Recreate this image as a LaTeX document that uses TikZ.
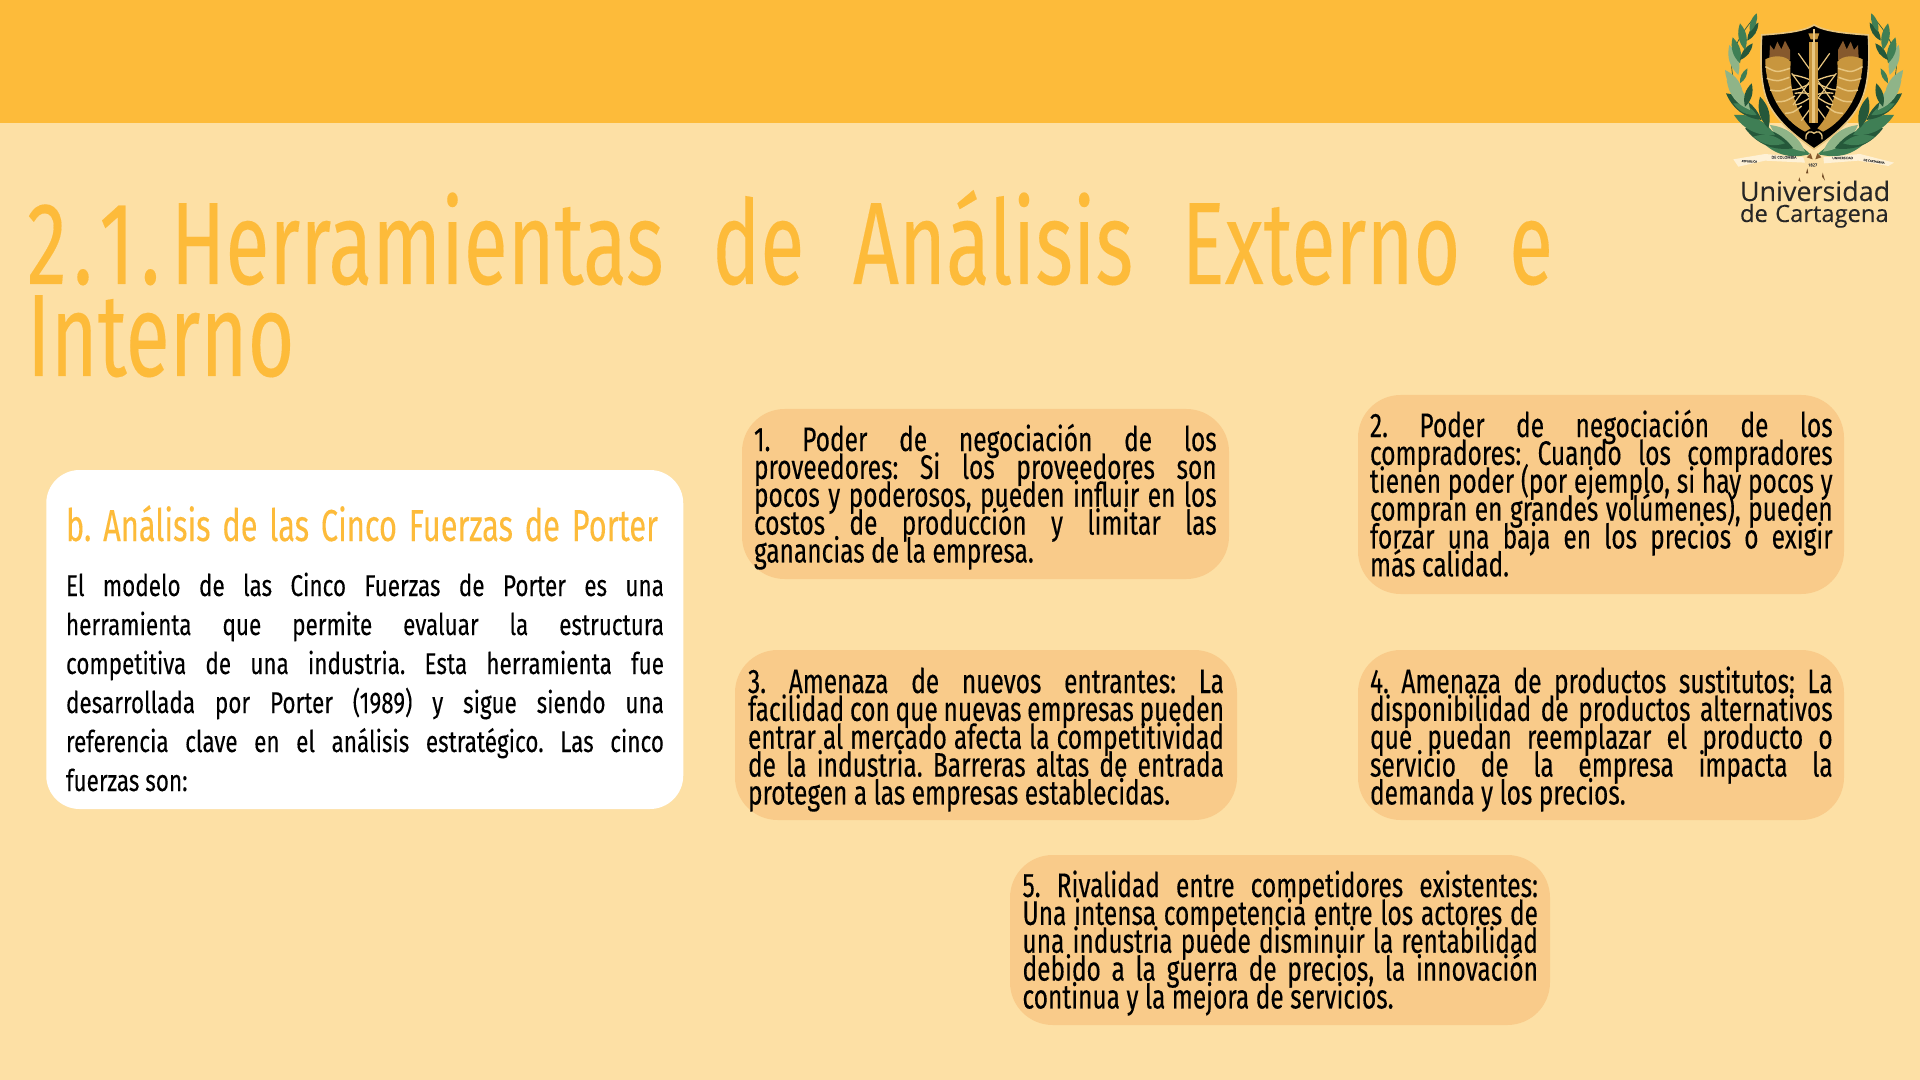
\documentclass[tikz,border=0pt]{standalone}
\usepackage{fontspec}
\usetikzlibrary{calc}
\newfontfamily\oswbox[FakeStretch=0.72,FakeBold=0.25]{Fira Sans}
\newfontfamily\oswbody[FakeStretch=0.75,FakeBold=0.15]{Fira Sans}
\newfontfamily\oswhead[FakeStretch=0.69,FakeBold=0.12]{Fira Sans}
\newfontfamily\oswtitle[FakeStretch=0.685,FakeBold=0.12]{Fira Sans}
\newfontfamily\logofont[FakeBold=0.1]{Open Sans}
\definecolor{bgcream}{HTML}{FDE0A5}
\definecolor{band}{HTML}{FDBB3A}
\definecolor{panelc}{HTML}{F9CB8A}
\definecolor{leafd}{HTML}{25583A}
\definecolor{leafm}{HTML}{3F7F55}
\definecolor{leafl}{HTML}{8FB488}
\definecolor{goldc}{HTML}{C8963E}
\definecolor{goldl}{HTML}{E8C680}
\hbadness=100000 \hfuzz=40pt \frenchspacing
\newcommand\jl[2]{\makebox[#1][s]{#2}\par}
\newcommand\lf[3]{\fill[#1] (#2) to[bend left=30] (#3) to[bend left=30] (#2) -- cycle;}
\newcommand\blk[2]{\fontsize{#1}{#2}\selectfont\setlength{\parindent}{0pt}\setlength{\baselineskip}{#2pt}\setlength{\lineskiplimit}{-100pt}\frenchspacing}
\newcommand\laurelhalf{%
  \draw[leafd,line width=.5pt] (355,465) .. controls (240,410) and (130,310) .. (125,200) .. controls (125,140) and (160,90) .. (200,45);
  \lf{leafm}{360,462}{215,425}\lf{leafl}{345,455}{240,375}\lf{leafd}{310,445}{165,385}
  \lf{leafm}{285,430}{190,410}\lf{leafm}{255,405}{132,345}\lf{leafd}{235,385}{210,290}
  \lf{leafd}{215,360}{108,280}\lf{leafm}{200,345}{130,310}
  \lf{leafl}{180,330}{110,240}\lf{leafd}{165,320}{185,250}\lf{leafl}{160,290}{105,210}
  \lf{leafm}{150,250}{172,205}\lf{leafl}{145,225}{118,135}\lf{leafm}{150,190}{128,112}
  \lf{leafd}{150,180}{188,130}\lf{leafm}{165,150}{150,70}\lf{leafd}{172,122}{205,68}
  \lf{leafm}{180,95}{200,40}
}
\newcommand\hornhalf{%
  \fill[brown!70!black] (238,175) -- (240,135) -- (252,150) -- (262,125) -- (274,148) -- (285,122) -- (300,150) -- (300,180) -- cycle;
  \fill[goldc] (226,178) .. controls (250,165) and (285,165) .. (302,185) .. controls (296,270) and (320,340) .. (362,385) -- (345,395) .. controls (275,360) and (225,270) .. (226,178) -- cycle;
  \draw[goldl,line width=1.1pt] (226,200) .. controls (260,218) .. (300,205);
  \draw[goldl,line width=1.1pt] (230,235) .. controls (262,245) .. (298,232);
  \draw[goldl,line width=1.1pt] (240,270) .. controls (270,275) .. (303,260);
  \draw[goldl,line width=1.1pt] (258,305) .. controls (285,305) .. (315,288);
  \draw[goldl,line width=1.1pt] (285,340) .. controls (310,338) .. (335,318);
  \draw[goldl,line width=.9pt] (325,160) -- (435,315);
  \draw[goldl,line width=.9pt] (305,220) -- (410,362);
  \draw[goldl,line width=1pt] (305,270) .. controls (340,270) and (370,235) .. (435,225);
  \draw[goldl,line width=1pt] (315,315) .. controls (350,310) and (370,270) .. (430,280);
  \draw[goldl,line width=1pt] (348,418) .. controls (345,392) and (365,392) .. (372,400);
}
\begin{document}
\begin{tikzpicture}[x=0.75pt,y=-0.75pt,
  panel/.style={fill=panelc,rounded corners=32pt,inner sep=0pt},
  whitepanel/.style={fill=white,rounded corners=25pt,inner sep=0pt},
  txt/.style={anchor=base west,inner sep=0pt,outer sep=0pt,text=black}]
\useasboundingbox (0,0) rectangle (1920,1080);
\fill[bgcream] (0,0) rectangle (1920,1080);
\fill[band] (0,0) rectangle (1920,123);

% title
\node[txt,text=band] (title) at (27,284) {\parbox[t]{1200pt}{\oswtitle\blk{88}{69}%
  \makebox[1144.5pt][s]{2\kern5pt.\kern5pt1\kern5pt.\kern8pt Herramientas de Análisis Externo e}\par Interno}};

% white panel
\node[whitepanel,minimum width=477.75pt,minimum height=254.25pt] (wp) at (364.75,639.5) {};
\node[txt,text=band] (wh) at (66,541) {\oswhead\fontsize{33.5}{40}\selectfont\makebox[444pt][s]{b. Análisis de las Cinco Fuerzas de Porter}};
\node[txt] (wb) at (66,596) {\parbox[t]{448.5pt}{\oswbody\blk{22.5}{29.25}%
  \jl{448.5pt}{El modelo de las Cinco Fuerzas de Porter es una}%
  \jl{448.5pt}{herramienta que permite evaluar la estructura}%
  \jl{448.5pt}{competitiva de una industria. Esta herramienta fue}%
  \jl{448.5pt}{desarrollada por Porter (1989) y sigue siendo una}%
  \jl{448.5pt}{referencia clave en el análisis estratégico. Las cinco}%
  fuerzas son:}};

% force panels
\node[panel,minimum width=365.25pt,minimum height=127.5pt] (p1) at (985.5,494) {};
\node[txt] (t1) at (754,451) {\parbox[t]{347pt}{\oswbox\blk{25.5}{20.9}%
  \jl{347pt}{1. Poder de negociación de los}%
  \jl{347pt}{proveedores: Si los proveedores son}%
  \jl{347pt}{pocos y poderosos, pueden influir en los}%
  \jl{347pt}{costos de producción y limitar las}%
  ganancias de la empresa.}};

\node[panel,minimum width=364.5pt,minimum height=149.25pt] (p2) at (1601,494.5) {};
\node[txt] (t2) at (1370,437) {\parbox[t]{347pt}{\oswbox\blk{25.5}{20.9}%
  \jl{347pt}{2. Poder de negociación de los}%
  \jl{347pt}{compradores: Cuando los compradores}%
  \jl{347pt}{tienen poder (por ejemplo, si hay pocos y}%
  \jl{347pt}{compran en grandes volúmenes), pueden}%
  \jl{347pt}{forzar una baja en los precios o exigir}%
  más calidad.}};

\node[panel,minimum width=376.5pt,minimum height=127.5pt] (p3) at (986,735) {};
\node[txt] (t3) at (748,693) {\parbox[t]{357pt}{\oswbox\blk{25.5}{20.9}%
  \jl{357pt}{3. Amenaza de nuevos entrantes: La}%
  \jl{357pt}{facilidad con que nuevas empresas pueden}%
  \jl{357pt}{entrar al mercado afecta la competitividad}%
  \jl{357pt}{de la industria. Barreras altas de entrada}%
  protegen a las empresas establecidas.}};

\node[panel,minimum width=364.5pt,minimum height=127.5pt] (p4) at (1601,735) {};
\node[txt] (t4) at (1370,693) {\parbox[t]{347pt}{\oswbox\blk{25.5}{20.9}%
  \jl{347pt}{4. Amenaza de productos sustitutos: La}%
  \jl{347pt}{disponibilidad de productos alternativos}%
  \jl{347pt}{que puedan reemplazar el producto o}%
  \jl{347pt}{servicio de la empresa impacta la}%
  demanda y los precios.}};

\node[panel,minimum width=405pt,minimum height=127.5pt] (p5) at (1280,940) {};
\node[txt] (t5) at (1022.5,897) {\parbox[t]{386.6pt}{\oswbox\blk{25.5}{20.9}%
  \jl{386.6pt}{5. Rivalidad entre competidores existentes:}%
  \jl{386.6pt}{Una intensa competencia entre los actores de}%
  \jl{386.6pt}{una industria puede disminuir la rentabilidad}%
  \jl{386.6pt}{debido a la guerra de precios, la innovación}%
  continua y la mejora de servicios.}};

% logo (drawn in 3x crop units)
\begin{scope}[shift={(1690,0)},x=0.25pt,y=-0.25pt]
  \laurelhalf
  \begin{scope}[shift={(744,0)},xscale=-1]
    \laurelhalf
  \end{scope}
  \draw[goldl,fill=black,line width=1.2pt] (215,105) .. controls (280,100) and (340,95) .. (372,75) .. controls (405,95) and (470,100) .. (535,105) .. controls (540,190) and (535,260) .. (510,310) .. controls (480,370) and (420,415) .. (372,447) .. controls (325,415) and (265,370) .. (235,310) .. controls (212,260) and (210,190) .. (215,105) -- cycle;
  \hornhalf
  \begin{scope}[shift={(744,0)},xscale=-1]
    \hornhalf
  \end{scope}
  \fill[goldc] (358,125) rectangle (385,368);
  \fill[goldl] (366,125) rectangle (376,368);
  \fill[goldc] (355,100) -- (388,100) -- (382,118) -- (362,118) -- cycle;
  \fill[goldl] (368,88) rectangle (376,125);
  % ribbon
  \fill[white!55!bgcream] (130,478) -- (225,462) -- (340,472) -- (345,488) -- (225,482) -- (145,500) -- cycle;
  \fill[white!55!bgcream] (400,472) -- (510,462) -- (612,488) -- (595,498) -- (505,482) -- (402,490) -- cycle;
  \node[inner sep=0pt,text=black!75,rotate=-2] (r1) at (178,484) {\logofont\fontsize{2.2}{3}\selectfont REPUBLICA};
  \node[inner sep=0pt,text=black!75] (r2) at (282,472) {\logofont\fontsize{2.8}{3}\selectfont DE COLOMBIA};
  \node[inner sep=0pt,text=black!75] (r3) at (458,474) {\logofont\fontsize{2.4}{3}\selectfont UNIVERSIDAD};
  \node[inner sep=0pt,text=black!75,rotate=-8] (r4) at (552,484) {\logofont\fontsize{2.2}{3}\selectfont DE CARTAGENA};
  \node[inner sep=0pt,text=black!75] (r5) at (368,495) {\logofont\fontsize{3}{3}\selectfont 1827};
  \fill[brown!60!black] (348,520) -- (352,505) -- (355,520) -- cycle;
  \fill[brown!60!black] (398,518) -- (405,542) -- (396,530) -- cycle;
  \fill[brown!60!black] (328,532) -- (332,545) -- (325,542) -- cycle;
  \fill[brown!70!black] (350,472) -- (362,460) -- (368,478) -- cycle;
  \fill[brown!70!black] (394,472) -- (382,460) -- (376,478) -- cycle;
\end{scope}
\node[txt,text=black!85] (lg1) at (1740,201) {\logofont\fontsize{20.2}{20}\selectfont Universidad};
\node[txt,text=black!85] (lg2) at (1740,222) {\logofont\fontsize{17.8}{20}\selectfont\makebox[111.5pt][s]{de Cartagena}};
\end{tikzpicture}
\end{document}
